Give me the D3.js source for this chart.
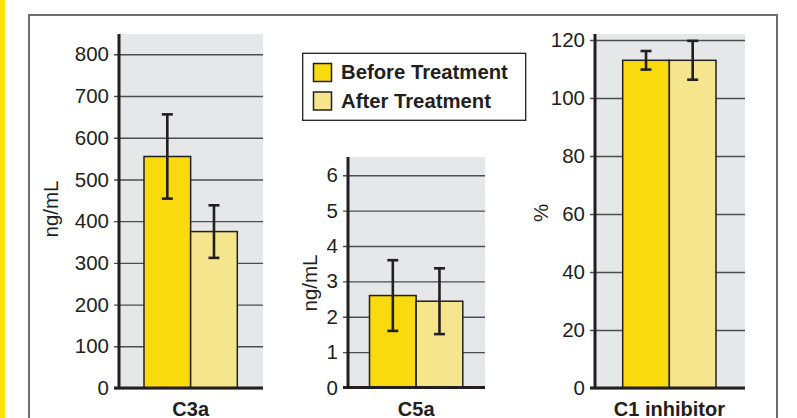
<!DOCTYPE html>
<html>
<head>
<meta charset="utf-8">
<script src="https://cdn.jsdelivr.net/npm/d3@7"></script>
<style>
  body { margin: 0; background: #fff; }
  svg { display: block; font-family: "Liberation Sans", Arial, sans-serif; }
</style>
</head>
<body>
<div id="chart"></div>
<script>
// values
const groups = ["C3a", "C5a", "C1 inhibitor"]
const series = ["Before Treatment", "After Treatment"]
const beforeMean = [555, 2.6, 113]
const beforeErr = [101, 1.0, 3.2]
const afterMean = [375, 2.44, 113]
const afterErr = [63, 0.93, 6.7]
const yUnits = ["ng/mL", "ng/mL", "%"]
const c3aTicks = [0, 100, 200, 300, 400, 500, 600, 700, 800]
const c5aTicks = [0, 1, 2, 3, 4, 5, 6]
const c1Ticks = [0, 20, 40, 60, 80, 100, 120]

const colors = { "Before Treatment": "#f9da0c", "After Treatment": "#f5e68e" }
const ink = "#231f20"

const width = 797, height = 418

const svg = d3.select("#chart").append("svg")
    .attr("width", width)
    .attr("height", height)

// yellow strip + frame
svg.append("rect").attr("x", 0).attr("y", 0).attr("width", 5).attr("height", height).attr("fill", "#ffe10a")
svg.append("path")
    .attr("d", `M29,${height} V15 H777 V${height}`)
    .attr("fill", "none")
    .attr("stroke", "#6d6e71")
    .attr("stroke-width", 2)

// panel layout (pixels)
const panels = [
    { ticks: c3aTicks, left: 119, right: 263, bgTop: 34, yTop: 54.3, yZero: 388, barX: 144, labelX: 51, labelY: 209 },
    { ticks: c5aTicks, left: 348, right: 485, bgTop: 157, yTop: 175.3, yZero: 387.5, barX: 369.5, labelX: 310, labelY: 283 },
    { ticks: c1Ticks, left: 595, right: 745, bgTop: 34, yTop: 40, yZero: 388, barX: 622.7, labelX: 541, labelY: 213 }
]

panels.forEach((p, i) => {
    const g = svg.append("g")
    const tmax = p.ticks[p.ticks.length - 1]

    const y = d3.scaleLinear()
        .domain([0, tmax])
        .range([p.yZero, p.yTop])

    const x = d3.scaleBand()
        .domain(series)
        .range([p.barX, p.barX + 93.3])
        .padding(0)

    g.append("rect")
        .attr("x", p.left).attr("y", p.bgTop)
        .attr("width", p.right - p.left).attr("height", p.yZero - p.bgTop)
        .attr("fill", "#e6e7e8")

    // grid + ticks via axis
    const axis = d3.axisLeft(y)
        .tickValues(p.ticks)
        .tickFormat(d3.format("d"))
        .tickSize(-(p.right - p.left))
        .tickPadding(10)
    const ag = g.append("g")
        .attr("transform", `translate(${p.left},0)`)
        .call(axis)
    ag.select(".domain").remove()
    ag.selectAll(".tick line")
        .attr("x1", -5)
        .attr("stroke", "#4d4d4f")
        .attr("stroke-width", 1.4)
    ag.selectAll(".tick text")
        .attr("fill", ink)
        .attr("font-size", 20.5)
        .attr("font-family", "Liberation Sans, Arial, sans-serif")

    const rows = [
        { s: series[0], v: beforeMean[i], e: beforeErr[i] },
        { s: series[1], v: afterMean[i], e: afterErr[i] }
    ]

    g.selectAll(".bar")
        .data(rows)
        .join("rect")
        .attr("x", d => x(d.s))
        .attr("y", d => y(d.v))
        .attr("width", x.bandwidth())
        .attr("height", d => y(0) - y(d.v))
        .attr("fill", d => colors[d.s])
        .attr("stroke", ink)
        .attr("stroke-width", 1.5)

    const eb = g.selectAll(".err")
        .data(rows)
        .join("g")
        .attr("stroke", ink)
        .attr("stroke-width", 2.6)
    eb.append("line")
        .attr("x1", d => x(d.s) + x.bandwidth() / 2)
        .attr("x2", d => x(d.s) + x.bandwidth() / 2)
        .attr("y1", d => y(d.v + d.e))
        .attr("y2", d => y(d.v - d.e))
    eb.append("line")
        .attr("x1", d => x(d.s) + x.bandwidth() / 2 - 5.5)
        .attr("x2", d => x(d.s) + x.bandwidth() / 2 + 5.5)
        .attr("y1", d => y(d.v + d.e))
        .attr("y2", d => y(d.v + d.e))
    eb.append("line")
        .attr("x1", d => x(d.s) + x.bandwidth() / 2 - 5.5)
        .attr("x2", d => x(d.s) + x.bandwidth() / 2 + 5.5)
        .attr("y1", d => y(d.v - d.e))
        .attr("y2", d => y(d.v - d.e))

    // axis lines
    g.append("line")
        .attr("x1", p.left).attr("x2", p.left)
        .attr("y1", p.bgTop).attr("y2", p.yZero)
        .attr("stroke", ink).attr("stroke-width", 3)
    g.append("line")
        .attr("x1", p.left - 5).attr("x2", p.right)
        .attr("y1", p.yZero).attr("y2", p.yZero)
        .attr("stroke", ink).attr("stroke-width", 3)

    g.append("text")
        .attr("x", p.barX + 46.7)
        .attr("y", 415.5)
        .attr("text-anchor", "middle")
        .attr("font-size", 20)
        .attr("font-weight", "bold")
        .attr("fill", ink)
        .text(groups[i])

    g.append("text")
        .attr("transform", `translate(${p.labelX},${p.labelY}) rotate(-90)`)
        .attr("text-anchor", "middle")
        .attr("dy", "0.35em")
        .attr("font-size", 20.5)
        .attr("fill", ink)
        .text(yUnits[i])
})

// legend
const lg = svg.append("g")
lg.append("rect")
    .attr("x", 302.7).attr("y", 53.3)
    .attr("width", 223).attr("height", 67)
    .attr("fill", "#fff")
    .attr("stroke", ink).attr("stroke-width", 1.3)
series.forEach((s, i) => {
    lg.append("rect")
        .attr("x", 313.5).attr("y", 63.5 + i * 28.5)
        .attr("width", 18).attr("height", 18)
        .attr("fill", colors[s])
        .attr("stroke", ink).attr("stroke-width", 1.5)
    lg.append("text")
        .attr("x", 341).attr("y", 79 + i * 28.5)
        .attr("font-size", 20.3)
        .attr("font-weight", "bold")
        .attr("fill", ink)
        .text(s)
})
</script>
</body>
</html>
